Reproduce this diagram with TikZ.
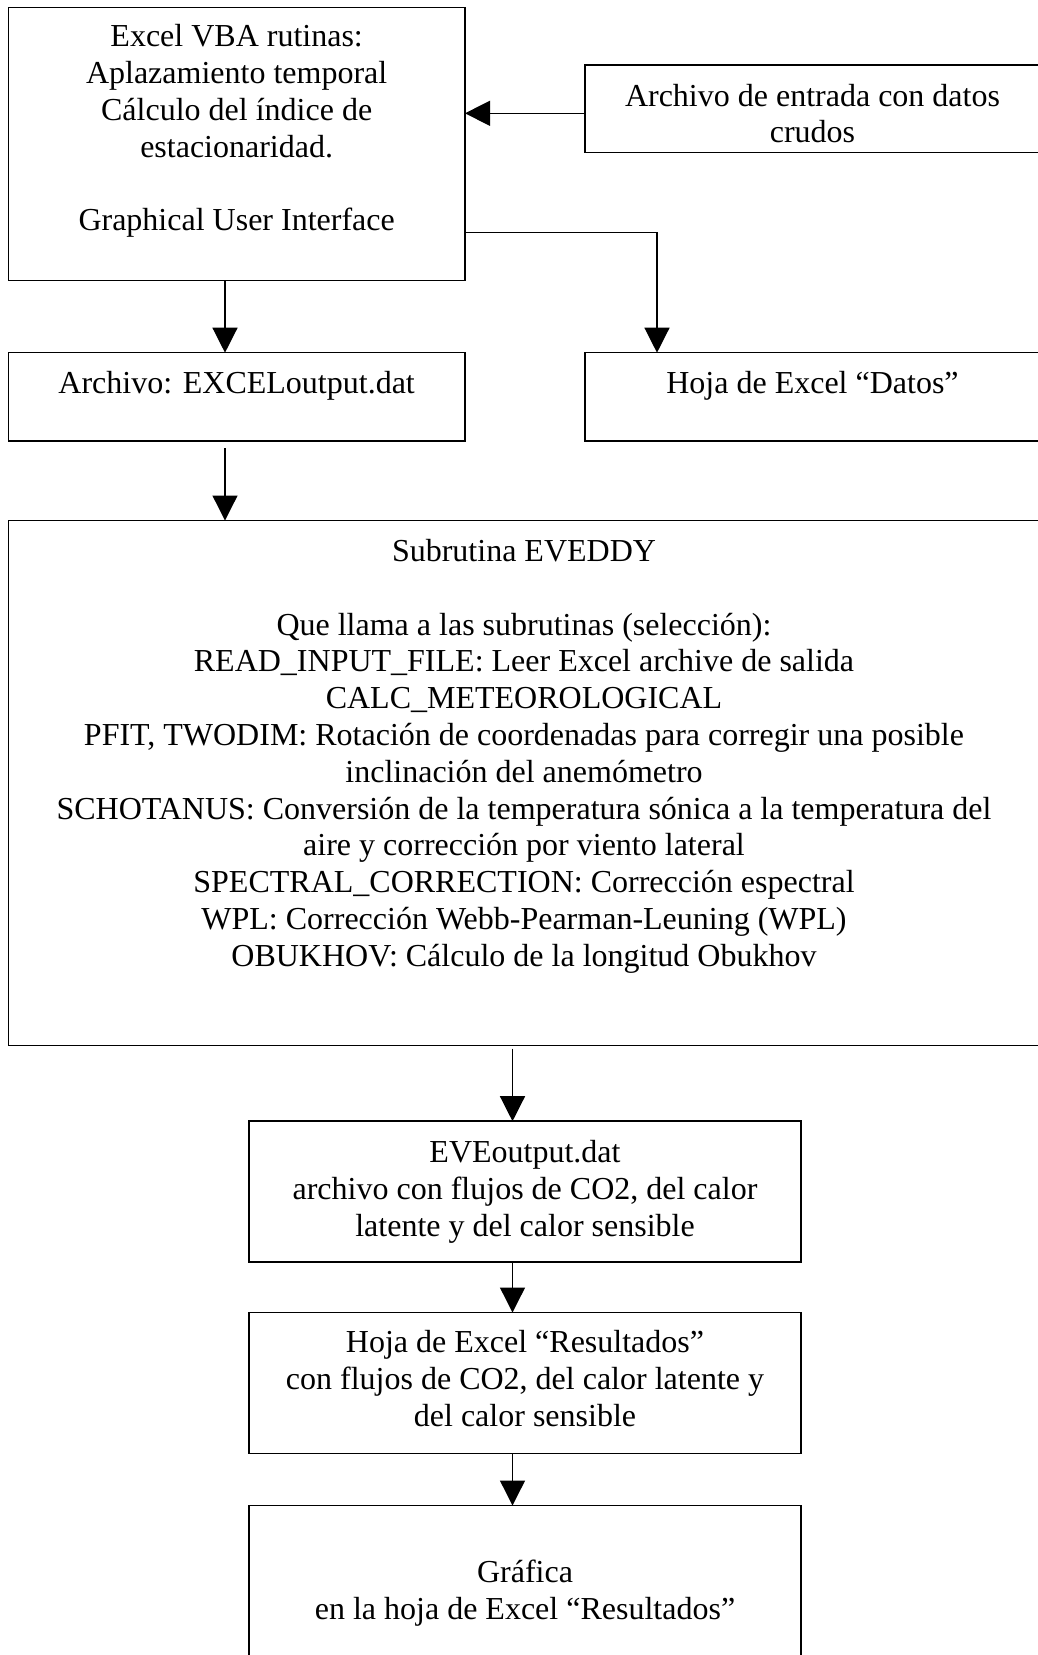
\documentclass[tikz,border=0pt]{standalone}
\usepackage{fontspec}
\setmainfont{Liberation Serif}
\usetikzlibrary{arrows.meta}
\begin{document}
\begin{tikzpicture}[x=1pt,y=-1pt,
  box/.style={draw,line width=1.5pt,inner sep=0pt,outer sep=0pt},
  txt/.style={anchor=base,inner sep=0pt,font=\fontsize{32pt}{36.8pt}\selectfont},
  arr/.style={line width=1.3pt,-{Triangle[length=25pt,width=25pt]}}]
\useasboundingbox (0,0) rectangle (1038,1655);
\clip (0,0) rectangle (1038,1655);
% boxes
\node[box,minimum width=456.7pt,minimum height=273.4pt] (A) at (236.65,144) {};
\node[box,minimum width=463pt,minimum height=87.7pt] (IN) at (816.5,108.85) {};
\node[box,minimum width=456.7pt,minimum height=88.3pt] (EXO) at (236.65,396.85) {};
\node[box,minimum width=463pt,minimum height=88.3pt] (DAT) at (816.5,396.85) {};
\node[box,minimum width=1039.7pt,minimum height=525pt] (EVD) at (528.15,783) {};
\node[box,minimum width=552pt,minimum height=140.8pt] (EVO) at (525,1191.6) {};
\node[box,minimum width=552pt,minimum height=141.2pt] (RES) at (525,1383.1) {};
\node[box,minimum width=552pt,minimum height=164.5pt] (GRA) at (525,1587.75) {};
% texts
\node[txt] (a1) at (236.65,46.7) {Excel VBA rutinas:};
\node[txt] (a2) at (236.65,83.5) {Aplazamiento temporal};
\node[txt] (a3) at (236.65,120.3) {Cálculo del índice de};
\node[txt] (a4) at (236.65,157.1) {estacionaridad.};
\node[txt] (a5) at (236.65,230.7) {Graphical User Interface};
\node[txt] (i1) at (812.5,106) {Archivo de entrada con datos};
\node[txt] (i2) at (812.5,142.8) {crudos};
\node[txt] (x1) at (236.65,393.3) {Archivo: EXCELoutput.dat};
\node[txt] (d1) at (812.5,393.3) {Hoja de Excel “Datos”};
\node[txt] (e1) at (524,561.5) {Subrutina EVEDDY};
\node[txt] (e2) at (524,635.1) {Que llama a las subrutinas (selección):};
\node[txt] (e3) at (524,671.9) {READ\_INPUT\_FILE: Leer Excel archive de salida};
\node[txt] (e4) at (524,708.7) {CALC\_METEOROLOGICAL};
\node[txt] (e5) at (524,745.5) {PFIT, TWODIM: Rotación de coordenadas para corregir una posible};
\node[txt] (e6) at (524,782.3) {inclinación del anemómetro};
\node[txt] (e7) at (524,819.1) {SCHOTANUS: Conversión de la temperatura sónica a la temperatura del};
\node[txt] (e8) at (524,855.9) {aire y corrección por viento lateral};
\node[txt] (e9) at (524,892.7) {SPECTRAL\_CORRECTION: Corrección espectral};
\node[txt] (e10) at (524,929.5) {WPL: Corrección Webb-Pearman-Leuning (WPL)};
\node[txt] (e11) at (524,966.3) {OBUKHOV: Cálculo de la longitud Obukhov};
\node[txt] (o1) at (525,1162) {EVEoutput.dat};
\node[txt] (o2) at (525,1199) {archivo con flujos de CO2, del calor};
\node[txt] (o3) at (525,1236) {latente y del calor sensible};
\node[txt] (r1) at (525,1352.5) {Hoja de Excel “Resultados”};
\node[txt] (r2) at (525,1389.3) {con flujos de CO2, del calor latente y};
\node[txt] (r3) at (525,1426.1) {del calor sensible};
\node[txt] (g1) at (525,1582.5) {Gráfica};
\node[txt] (g2) at (525,1619.3) {en la hoja de Excel “Resultados”};
% connectors
\coordinate (j) at (657,232.7);
\coordinate (c1) at (225,0);
\coordinate (c2) at (512.5,0);
\draw[arr] ([yshift=-4.45pt]IN.west) -- ([yshift=-4.45pt]IN.west -| A.east);
\draw[arr] (A.east |- j) -- (j) -- (j |- DAT.north);
\draw[arr] (A.south -| c1) -- (EXO.north -| c1);
\draw[arr] ([yshift=-7.3pt]EXO.south -| c1) -- (EVD.north -| c1);
\draw[arr] ([yshift=-3pt]EVD.south -| c2) -- (EVO.north -| c2);
\draw[arr] (EVO.south -| c2) -- (RES.north -| c2);
\draw[arr] (RES.south -| c2) -- (GRA.north -| c2);
\end{tikzpicture}
\end{document}
